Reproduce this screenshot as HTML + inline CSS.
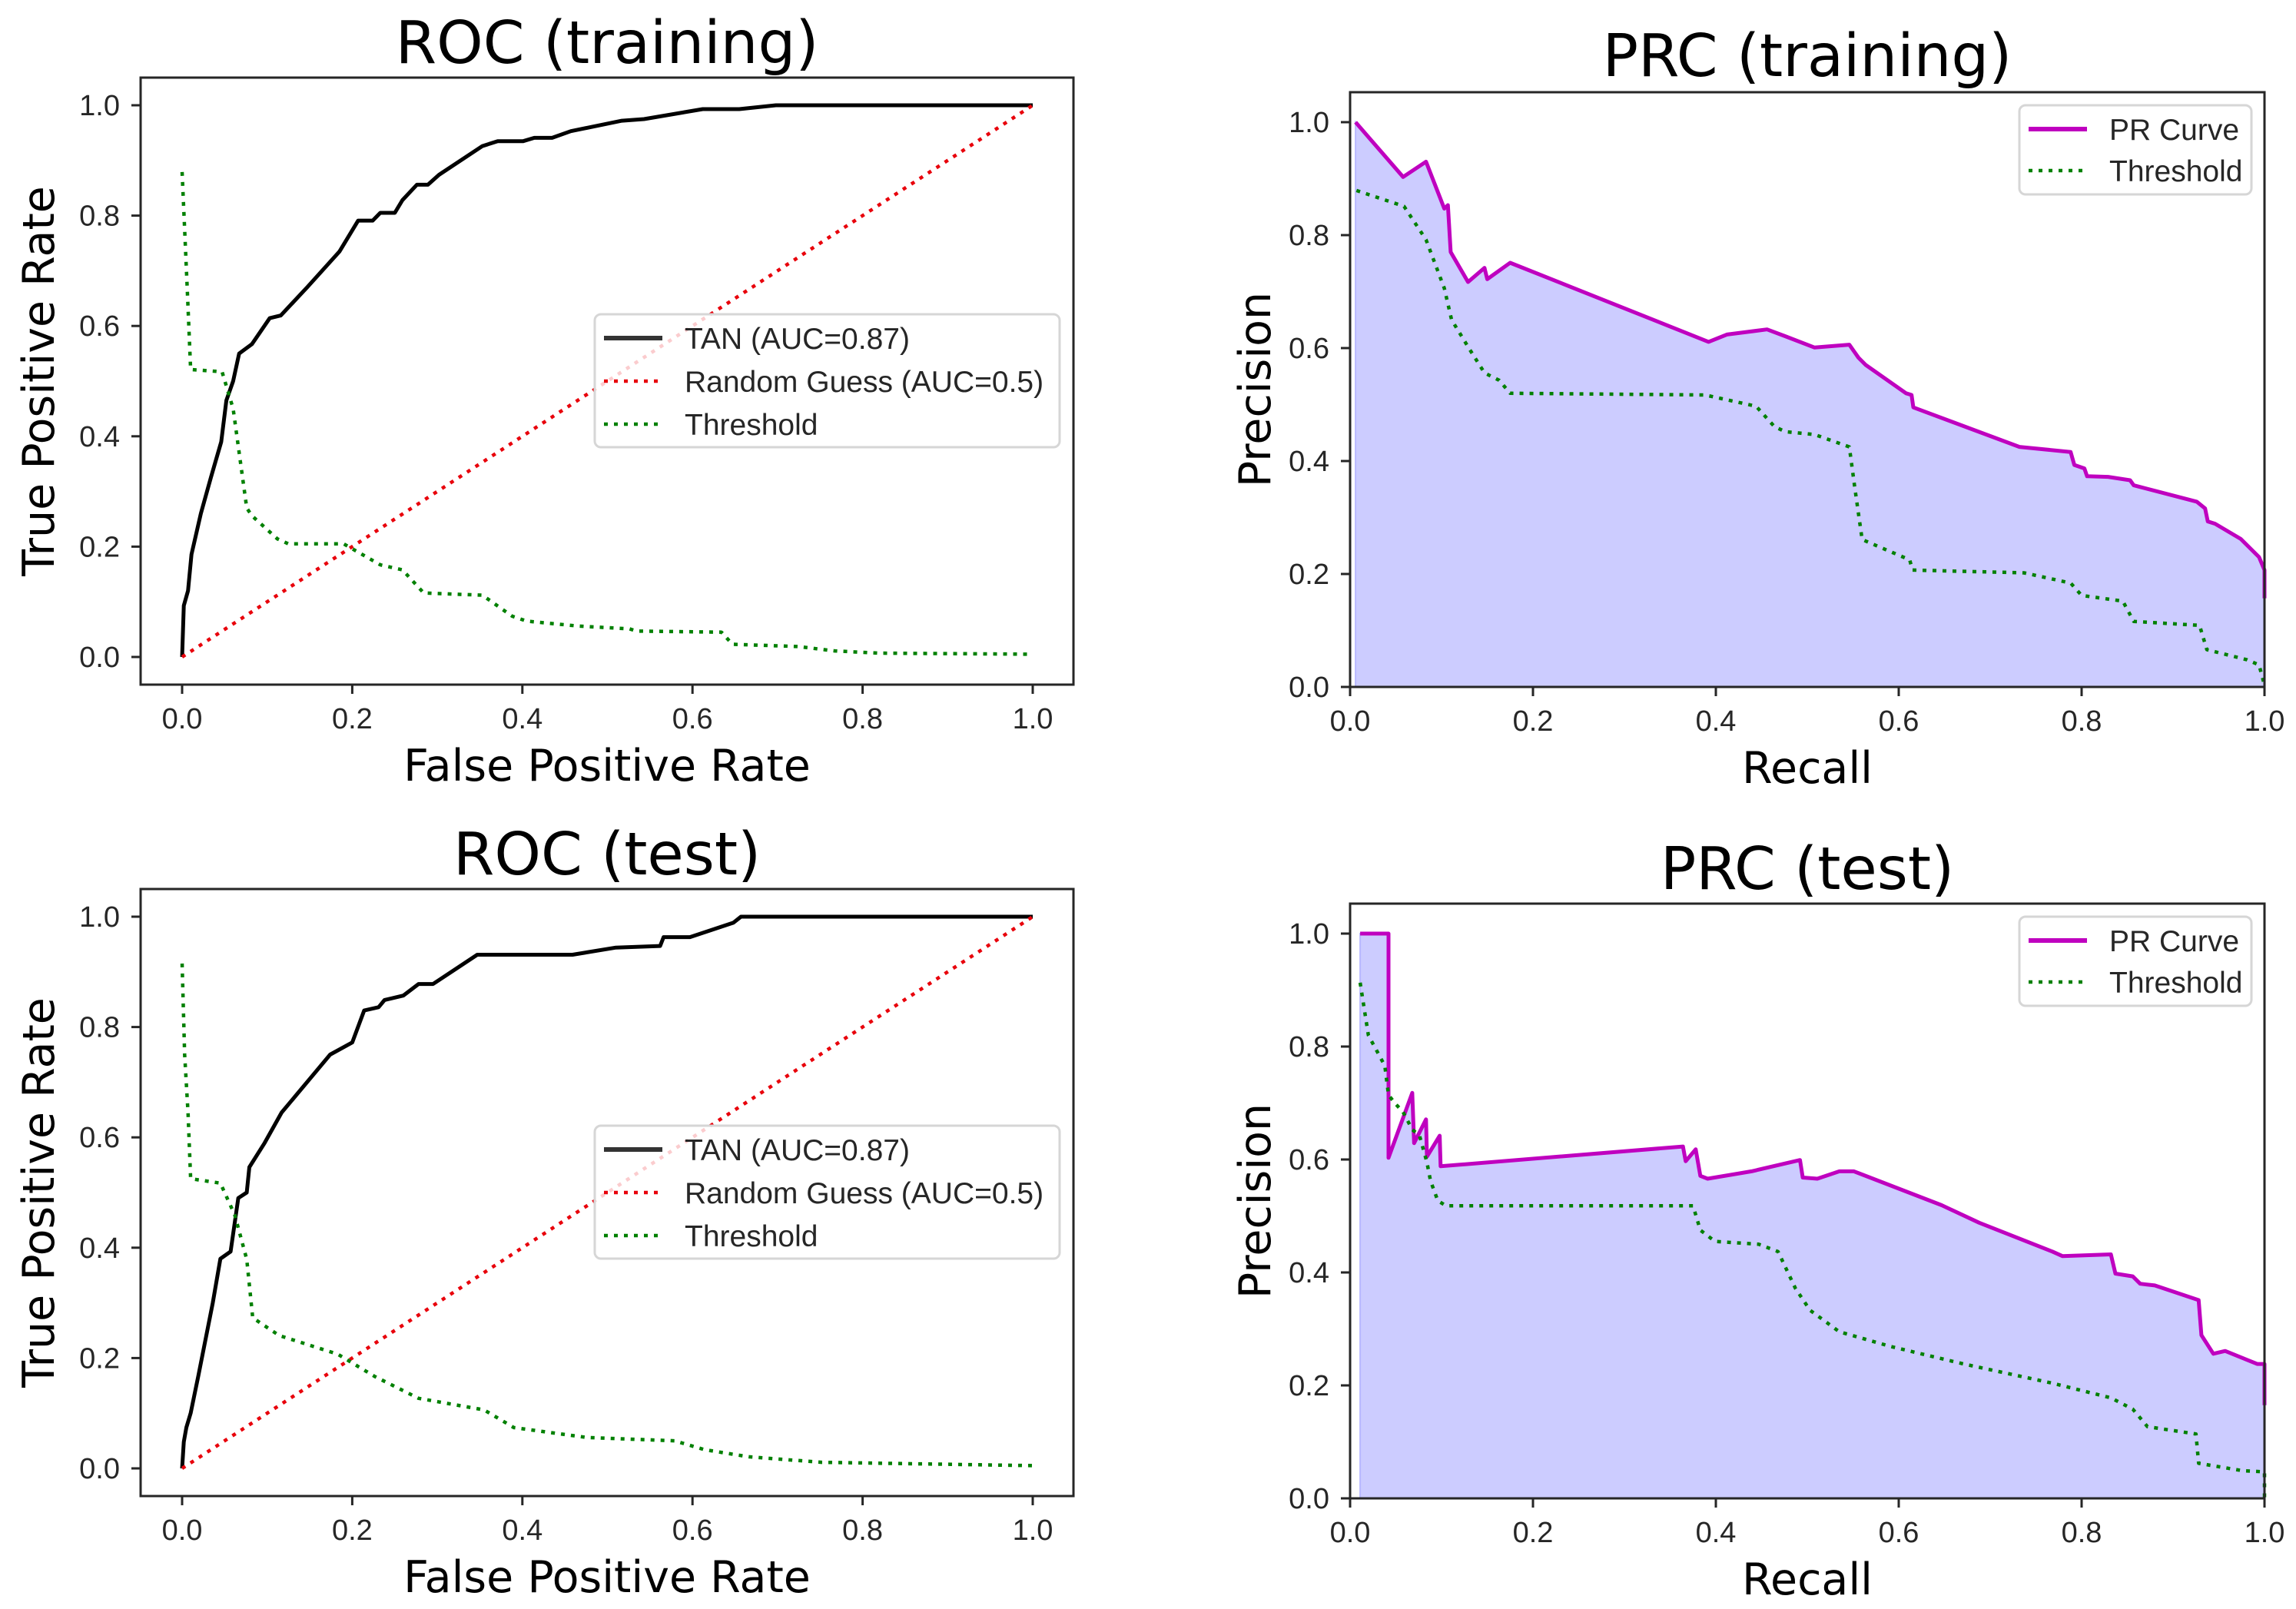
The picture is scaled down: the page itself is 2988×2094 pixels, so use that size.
<!DOCTYPE html>
<html><head><meta charset="utf-8">
<style>
html,body{margin:0;padding:0;background:#fff;}
svg{display:block;}
.tick{font-family:"Liberation Sans",sans-serif;font-size:38px;fill:#262626;}
.leg{font-family:"Liberation Sans",sans-serif;font-size:39px;fill:#262626;}
.title{font-family:"DejaVu Sans",sans-serif;font-size:77px;fill:#000;}
.alab{font-family:"DejaVu Sans",sans-serif;font-size:57px;fill:#000;}
</style></head>
<body>
<svg id="chart" width="2988" height="2094" viewBox="0 0 2988 2094" xmlns="http://www.w3.org/2000/svg"></svg>
<script>
// ROC training
const rocTrainFpr = [0,0.002,0.007,0.011,0.022,0.034,0.046,0.052,0.06,0.067,0.082,0.103,0.116,0.147,0.185,0.207,0.224,0.233,0.25,0.259,0.276,0.289,0.302,0.353,0.371,0.401,0.414,0.435,0.457,0.517,0.543,0.612,0.655,0.698,1];
const rocTrainTpr = [0,0.093,0.12,0.186,0.26,0.326,0.39,0.465,0.50,0.55,0.567,0.614,0.619,0.67,0.735,0.791,0.791,0.805,0.805,0.828,0.856,0.856,0.874,0.926,0.935,0.935,0.941,0.941,0.953,0.972,0.975,0.993,0.993,1,1];
const rocTrainThrX = [0,0.006,0.01,0.047,0.06,0.076,0.082,0.112,0.125,0.19,0.233,0.259,0.284,0.353,0.388,0.405,0.466,0.526,0.534,0.634,0.647,0.724,0.767,0.819,1];
const rocTrainThrY = [0.879,0.67,0.521,0.517,0.45,0.27,0.256,0.214,0.205,0.205,0.167,0.158,0.116,0.112,0.074,0.065,0.056,0.051,0.047,0.045,0.023,0.019,0.011,0.007,0.005];
// ROC test
const rocTestFpr = [0,0.002,0.005,0.01,0.019,0.036,0.045,0.057,0.066,0.076,0.079,0.097,0.117,0.174,0.2,0.214,0.231,0.238,0.26,0.278,0.295,0.347,0.459,0.51,0.562,0.566,0.597,0.648,0.657,1];
const rocTestTpr = [0,0.048,0.074,0.1,0.167,0.3,0.38,0.393,0.49,0.5,0.546,0.59,0.645,0.75,0.772,0.83,0.836,0.849,0.857,0.878,0.878,0.931,0.931,0.944,0.947,0.963,0.963,0.989,1,1];
const rocTestThrX = [0,0.003,0.007,0.01,0.045,0.062,0.076,0.083,0.114,0.183,0.226,0.278,0.355,0.39,0.476,0.579,0.614,0.666,0.752,1];
const rocTestThrY = [0.915,0.75,0.645,0.525,0.517,0.459,0.379,0.273,0.241,0.207,0.167,0.127,0.106,0.074,0.056,0.05,0.034,0.021,0.011,0.005];
// PRC training
const prcTrainRecall = [0.006,0.058,0.083,0.103,0.107,0.11,0.129,0.147,0.15,0.175,0.392,0.412,0.456,0.476,0.508,0.546,0.556,0.564,0.608,0.614,0.616,0.732,0.788,0.792,0.803,0.806,0.829,0.853,0.857,0.926,0.935,0.938,0.946,0.974,0.994,1.0,1.0];
const prcTrainPrec = [1.0,0.903,0.93,0.847,0.853,0.77,0.717,0.742,0.722,0.751,0.611,0.624,0.633,0.621,0.601,0.606,0.583,0.57,0.52,0.517,0.495,0.425,0.416,0.393,0.387,0.373,0.372,0.366,0.357,0.328,0.316,0.293,0.289,0.262,0.23,0.207,0.157];
const prcTrainThrX = [0.007,0.059,0.083,0.103,0.111,0.131,0.147,0.163,0.175,0.388,0.444,0.464,0.476,0.508,0.546,0.552,0.56,0.612,0.615,0.737,0.788,0.8,0.845,0.857,0.929,0.937,0.981,0.994,1.0];
const prcTrainThrY = [0.879,0.851,0.792,0.706,0.65,0.597,0.556,0.543,0.52,0.517,0.497,0.461,0.452,0.447,0.425,0.352,0.261,0.225,0.207,0.202,0.184,0.162,0.152,0.116,0.109,0.066,0.048,0.039,0.003];
// PRC test
const prcTestRecall = [0.011,0.042,0.042,0.068,0.07,0.083,0.084,0.098,0.099,0.364,0.367,0.378,0.383,0.391,0.439,0.492,0.495,0.511,0.535,0.551,0.647,0.688,0.768,0.779,0.832,0.837,0.856,0.864,0.88,0.928,0.931,0.944,0.957,0.992,1,1];
const prcTestPrec = [1.0,1.0,0.603,0.718,0.629,0.671,0.605,0.642,0.588,0.623,0.597,0.618,0.571,0.566,0.579,0.599,0.568,0.566,0.579,0.579,0.519,0.488,0.437,0.429,0.432,0.398,0.393,0.38,0.377,0.351,0.289,0.256,0.261,0.238,0.238,0.165];
const prcTestThrX = [0.011,0.02,0.038,0.042,0.05,0.058,0.068,0.076,0.084,0.088,0.096,0.105,0.375,0.383,0.399,0.447,0.468,0.487,0.503,0.535,0.591,0.671,0.768,0.832,0.856,0.872,0.925,0.928,0.976,1,1];
const prcTestThrY = [0.913,0.82,0.766,0.714,0.698,0.684,0.653,0.642,0.595,0.562,0.527,0.518,0.518,0.475,0.455,0.45,0.437,0.372,0.333,0.295,0.269,0.238,0.204,0.178,0.158,0.127,0.114,0.062,0.049,0.047,0];
const tickLabels = ["0.0","0.2","0.4","0.6","0.8","1.0"];
const tickValues = [0,0.2,0.4,0.6,0.8,1.0];

const NS = "http://www.w3.org/2000/svg";
const svg = document.getElementById("chart");
function mk(tag, attrs, parent){
  const e = document.createElementNS(NS, tag);
  for (const k in attrs) e.setAttribute(k, attrs[k]);
  (parent||svg).appendChild(e);
  return e;
}
function pts(xs, ys, sx, sy){ return xs.map((x,i)=>sx(x).toFixed(1)+","+sy(ys[i]).toFixed(1)).join(" "); }

function panel(p){
  const g = mk("g", {});
  
  
  const sx = v => p.x0 + v*(p.x1-p.x0);
  const sy = v => p.y0 + v*(p.y1-p.y0);
  if (p.fill) {
    const xs = p.fill[0], ys = p.fill[1];
    let d = pts(xs, ys, sx, sy) + " " + sx(xs[xs.length-1]).toFixed(1)+","+sy(0).toFixed(1)+" "+sx(xs[0]).toFixed(1)+","+sy(0).toFixed(1);
    const f = mk("polygon", {points:d, fill:"#ccccff", stroke:"#b8b8ff", "stroke-width":"2"}, g);
    
    
  }
  p.series.forEach(s=>{
    const l = mk("polyline", {points:pts(s.x, s.y, sx, sy), fill:"none", stroke:s.color, "stroke-width":s.w, "stroke-dasharray":s.dash||"none", "stroke-linejoin":"round"}, g);
    
    
  });
  const fr = mk("rect", {x:p.L, y:p.T, width:p.R-p.L, height:p.B-p.T, fill:"none", stroke:"#262626", "stroke-width":"3"}, g);
  
  
  tickValues.forEach((v,i)=>{
    const x = sx(v);
    mk("line", {x1:x, x2:x, y1:p.B, y2:p.B+12, stroke:"#262626", "stroke-width":"3"}, g);
    const t = mk("text", {x:x, y:p.B+57, "text-anchor":"middle", class:"tick"}, g);
    t.textContent = tickLabels[i];
    
    
    const y = sy(v);
    mk("line", {x1:p.L-12, x2:p.L, y1:y, y2:y, stroke:"#262626", "stroke-width":"3"}, g);
    const u = mk("text", {x:p.L-27, y:y+13, "text-anchor":"end", class:"tick"}, g);
    u.textContent = tickLabels[i];
    
    
  });
  const ti = mk("text", {x:(p.L+p.R)/2, y:p.titleY, "text-anchor":"middle", class:"title"}, g);
  ti.textContent = p.title;
  
  
  const xl = mk("text", {x:(p.L+p.R)/2, y:p.B+125, "text-anchor":"middle", class:"alab"}, g);
  xl.textContent = p.xlab;
  
  
  const cy = (p.T+p.B)/2;
  const yl = mk("text", {x:p.ylabX, y:cy, "text-anchor":"middle", class:"alab", transform:"rotate(-90 "+p.ylabX+" "+cy+")"}, g);
  yl.textContent = p.ylab;
  
  
  const lg = mk("g", {}, g);
  
  
  mk("rect", {x:p.leg.x, y:p.leg.y, width:p.leg.w, height:p.leg.h, rx:8, fill:"#fff", "fill-opacity":"0.8", stroke:"#d6d6d6", "stroke-width":"3"}, lg);
  p.leg.items.forEach((it,i)=>{
    const ry = p.leg.y + p.leg.first + i*p.leg.step;
    const ln = mk("line", {x1:p.leg.x+12, x2:p.leg.x+88, y1:ry, y2:ry, stroke:it.color, "stroke-width":it.w, "stroke-dasharray":it.dash||"none"}, lg);
    
    
    const tx = mk("text", {x:p.leg.x+117, y:ry+14, class:"leg"}, lg);
    tx.textContent = it.label;
    
    
  });
}

const DOT = "5 8";
function rocPanel(name, title, dy, fpr, tpr, thx, thy){
  panel({name:name, title:title, xlab:"False Positive Rate", ylab:"True Positive Rate",
    L:183, R:1397, T:101+dy, B:891+dy, x0:237, x1:1344, y0:855+dy, y1:137+dy,
    titleY:82+dy, ylabX:70,
    series:[
      {name:"tan-roc-line", x:fpr, y:tpr, color:"#000", w:5},
      {name:"random-guess-line", x:[0,1], y:[0,1], color:"#e8000b", w:4.5, dash:DOT},
      {name:"threshold-line", x:thx, y:thy, color:"#008000", w:4.5, dash:DOT}],
    leg:{x:774, y:409+dy, w:605, h:173, first:31, step:56, items:[
      {label:"TAN (AUC=0.87)", color:"#333", w:6},
      {label:"Random Guess (AUC=0.5)", color:"#e8000b", w:4.5, dash:DOT},
      {label:"Threshold", color:"#008000", w:4.5, dash:DOT}]}
  });
}
function prcPanel(name, title, dy, rec, prec, thx, thy, titleY){
  panel({name:name, title:title, xlab:"Recall", ylab:"Precision",
    L:1757, R:2947, T:120+dy, B:894+dy, x0:1757, x1:2947, y0:894+dy, y1:159+dy,
    titleY:titleY, ylabX:1653,
    fill:[rec, prec],
    series:[
      {name:"pr-curve-line", x:rec, y:prec, color:"#bf00bf", w:5},
      {name:"threshold-line", x:thx, y:thy, color:"#008000", w:4.5, dash:DOT}],
    leg:{x:2628, y:137+dy, w:302, h:116, first:31, step:54, items:[
      {label:"PR Curve", color:"#bf00bf", w:6},
      {label:"Threshold", color:"#008000", w:4.5, dash:DOT}]}
  });
}
rocPanel("roc-training-panel", "ROC (training)", 0, rocTrainFpr, rocTrainTpr, rocTrainThrX, rocTrainThrY);
rocPanel("roc-test-panel", "ROC (test)", 1056, rocTestFpr, rocTestTpr, rocTestThrX, rocTestThrY);
prcPanel("prc-training-panel", "PRC (training)", 0, prcTrainRecall, prcTrainPrec, prcTrainThrX, prcTrainThrY, 99);
prcPanel("prc-test-panel", "PRC (test)", 1056, prcTestRecall, prcTestPrec, prcTestThrX, prcTestThrY, 1157);
</script>
</body></html>
